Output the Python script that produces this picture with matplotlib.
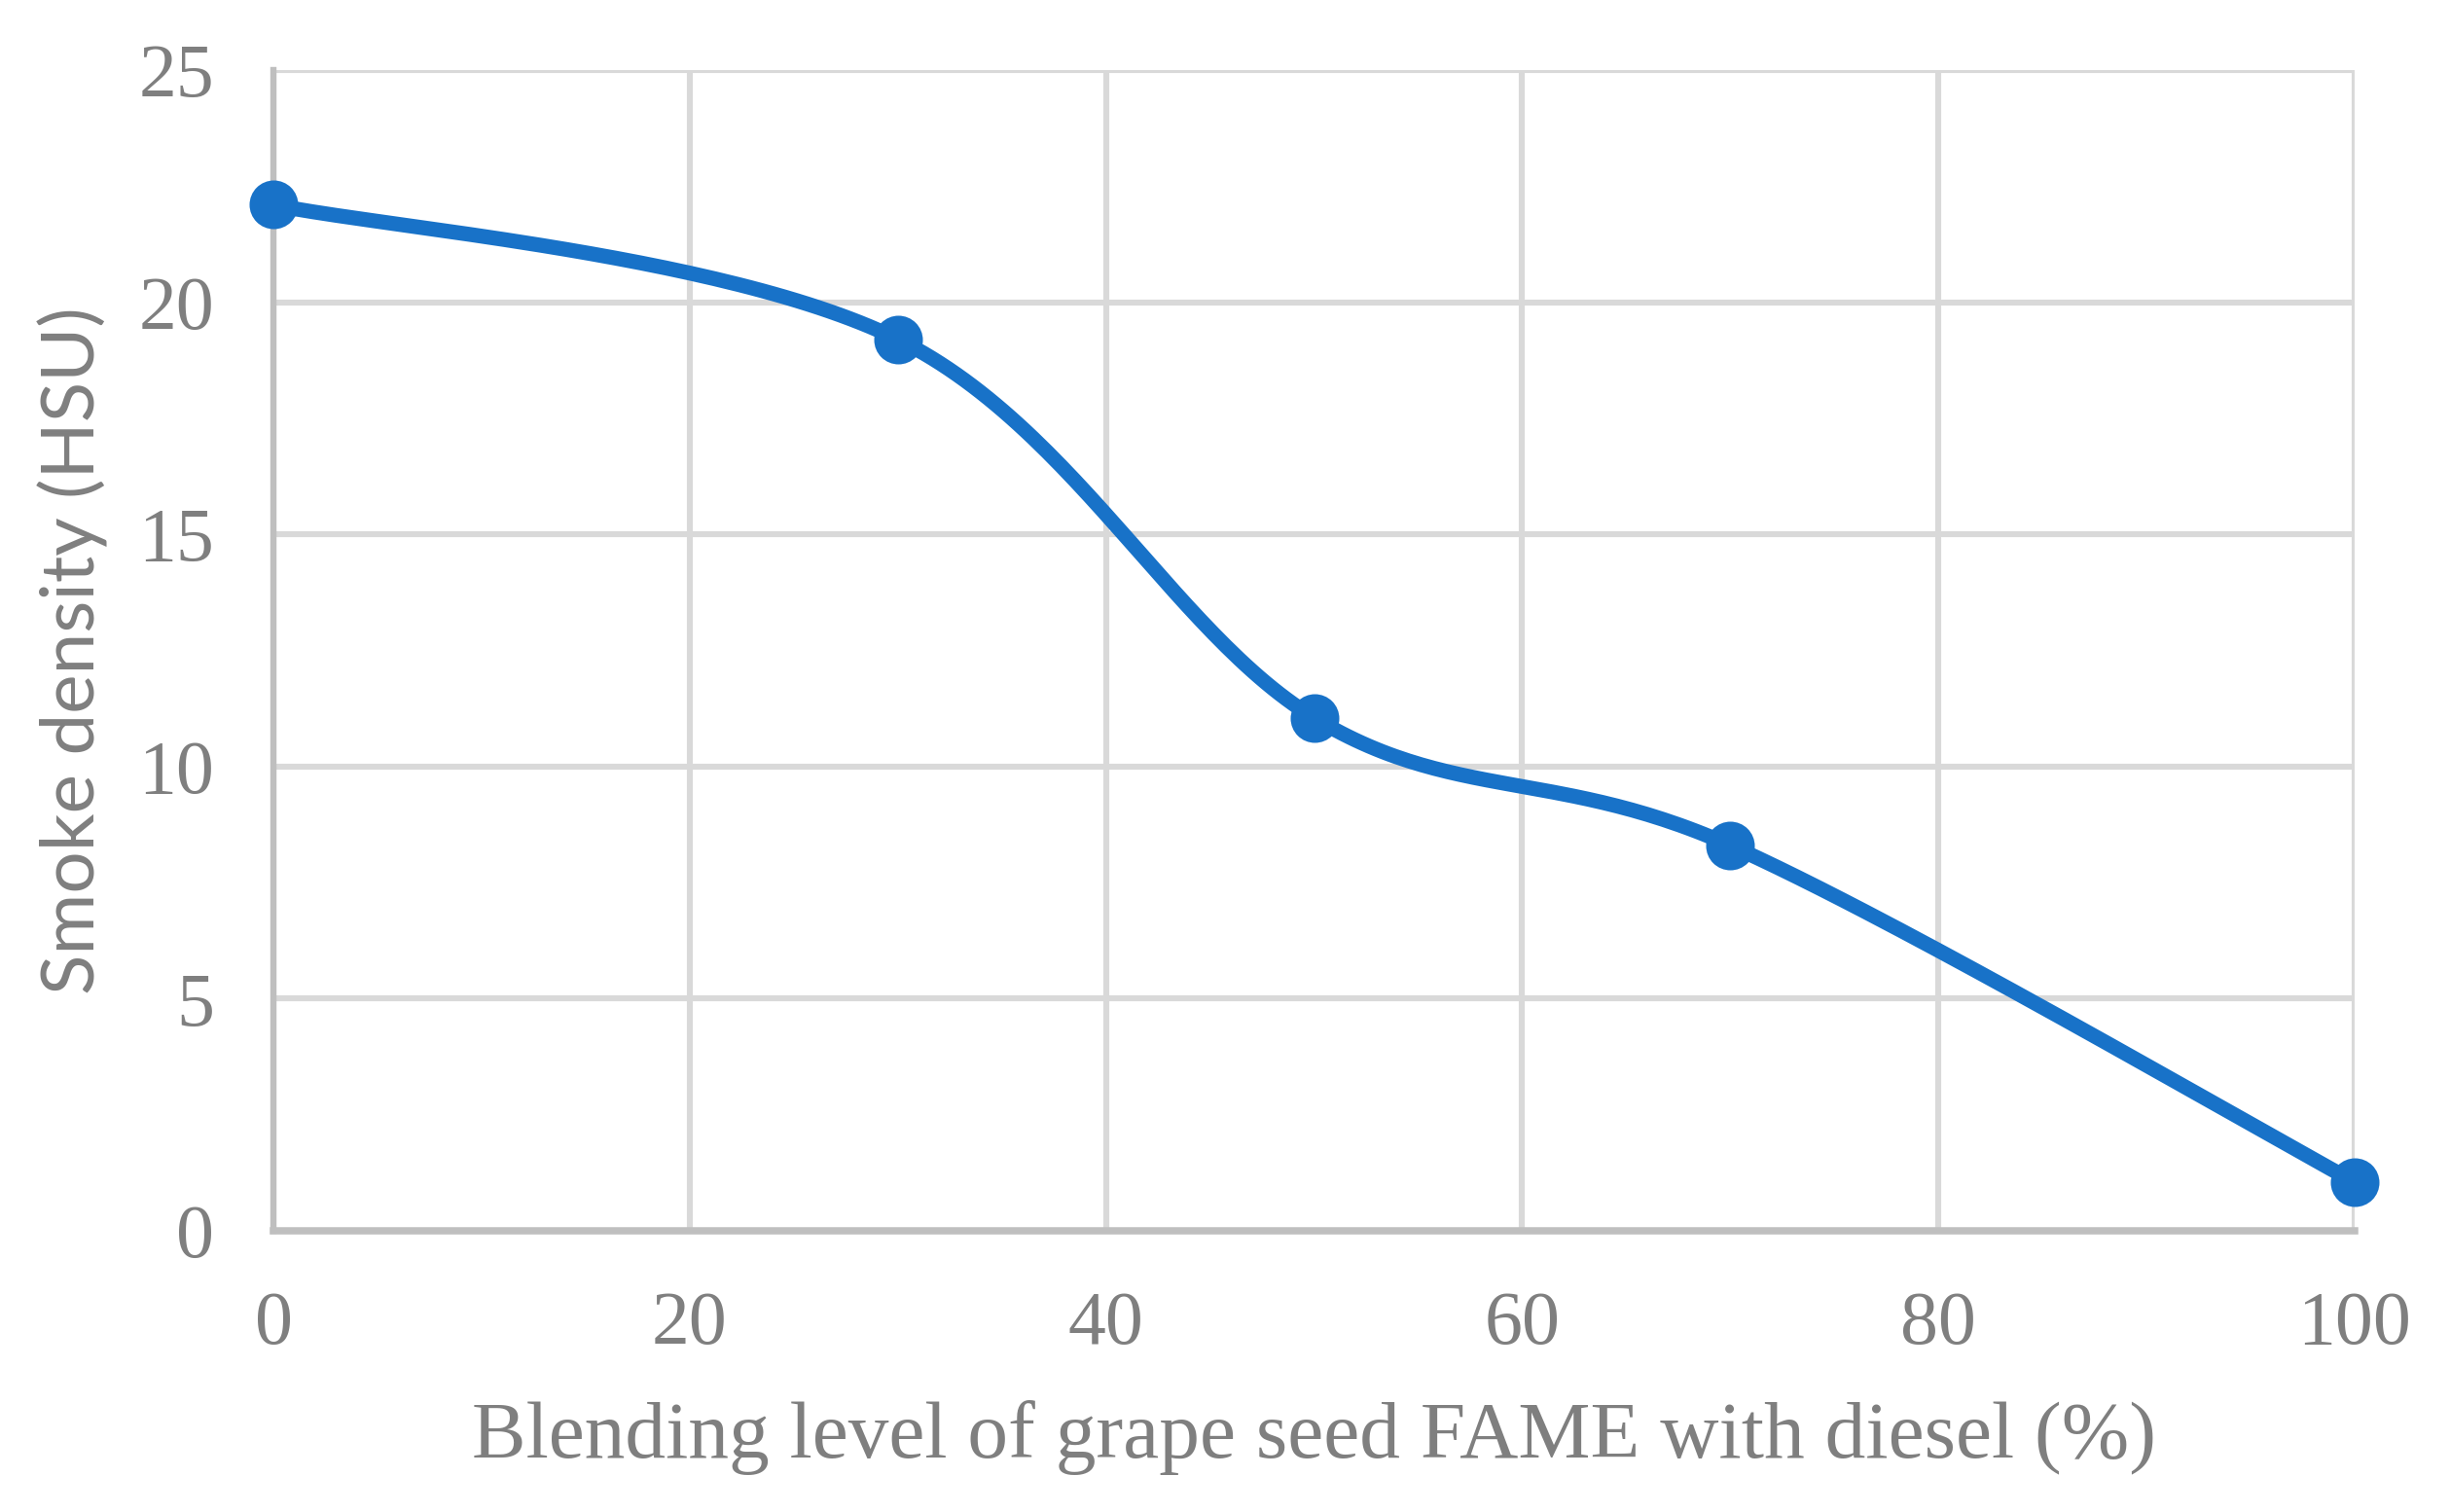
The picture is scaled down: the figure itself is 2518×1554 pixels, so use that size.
import numpy as np
import matplotlib.pyplot as plt

blend = [0, 30, 50, 70, 100]
smoke = [22.1, 19.2, 11.05, 8.3, 1.05]
xticks = [0, 20, 40, 60, 80, 100]
yticks = [0, 5, 10, 15, 20, 25]


def excel_smooth(x, y, n=60):
    # bezier smoothing like the spreadsheet "smoothed line"
    x = np.asarray(x, float)
    y = np.asarray(y, float)
    px = np.concatenate([[x[0]], x, [x[-1]]])
    py = np.concatenate([[y[0]], y, [y[-1]]])
    xs, ys = [], []
    t = np.linspace(0, 1, n)
    for i in range(len(x) - 1):
        p0 = np.array([px[i + 1], py[i + 1]])
        p3 = np.array([px[i + 2], py[i + 2]])
        p1 = p0 + (np.array([px[i + 2], py[i + 2]]) - np.array([px[i], py[i]])) / 6
        p2 = p3 - (np.array([px[i + 3], py[i + 3]]) - np.array([px[i + 1], py[i + 1]])) / 6
        b = ((1 - t) ** 3)[:, None] * p0 + (3 * (1 - t) ** 2 * t)[:, None] * p1 \
            + (3 * (1 - t) * t ** 2)[:, None] * p2 + (t ** 3)[:, None] * p3
        xs.extend(b[:, 0])
        ys.extend(b[:, 1])
    return xs, ys


fig = plt.figure(figsize=(12.59, 7.77), dpi=200)
ax = fig.add_axes([0.1116, 0.186, 0.8495, 0.7677])

sx, sy = excel_smooth(blend, smoke)
ax.plot(sx, sy, color='#1872C8', lw=5.5, solid_capstyle='round', clip_on=False, zorder=3)
ax.plot(blend, smoke, 'o', color='#1872C8', ms=17, clip_on=False, zorder=4)

ax.set_xlim(0, 100)
ax.set_ylim(0, 25)
ax.set_xticks(xticks)
ax.set_yticks(yticks)
ax.grid(True, color='#d9d9d9', lw=2.2)
ax.set_axisbelow(True)
for s in ['top', 'right']:
    ax.spines[s].set_visible(False)
ax.spines['left'].set_color('#bfbfbf')
ax.spines['left'].set_linewidth(2.3)
ax.spines['bottom'].set_color('#bfbfbf')
ax.spines['bottom'].set_linewidth(2.7)
ax.tick_params(length=0, labelsize=28, labelcolor='#7f7f7f', pad=22)
for lab in ax.get_xticklabels() + ax.get_yticklabels():
    lab.set_fontfamily('Liberation Serif')

ax.set_xlabel('Blending level of grape seed FAME with diesel (%)', fontsize=30,
              color='#7f7f7f', family='Liberation Serif', labelpad=15)
ax.set_ylabel('Smoke density (HSU)', fontsize=27.5, color='#7f7f7f', family='Lato',
              labelpad=11)

plt.savefig('out.png')
